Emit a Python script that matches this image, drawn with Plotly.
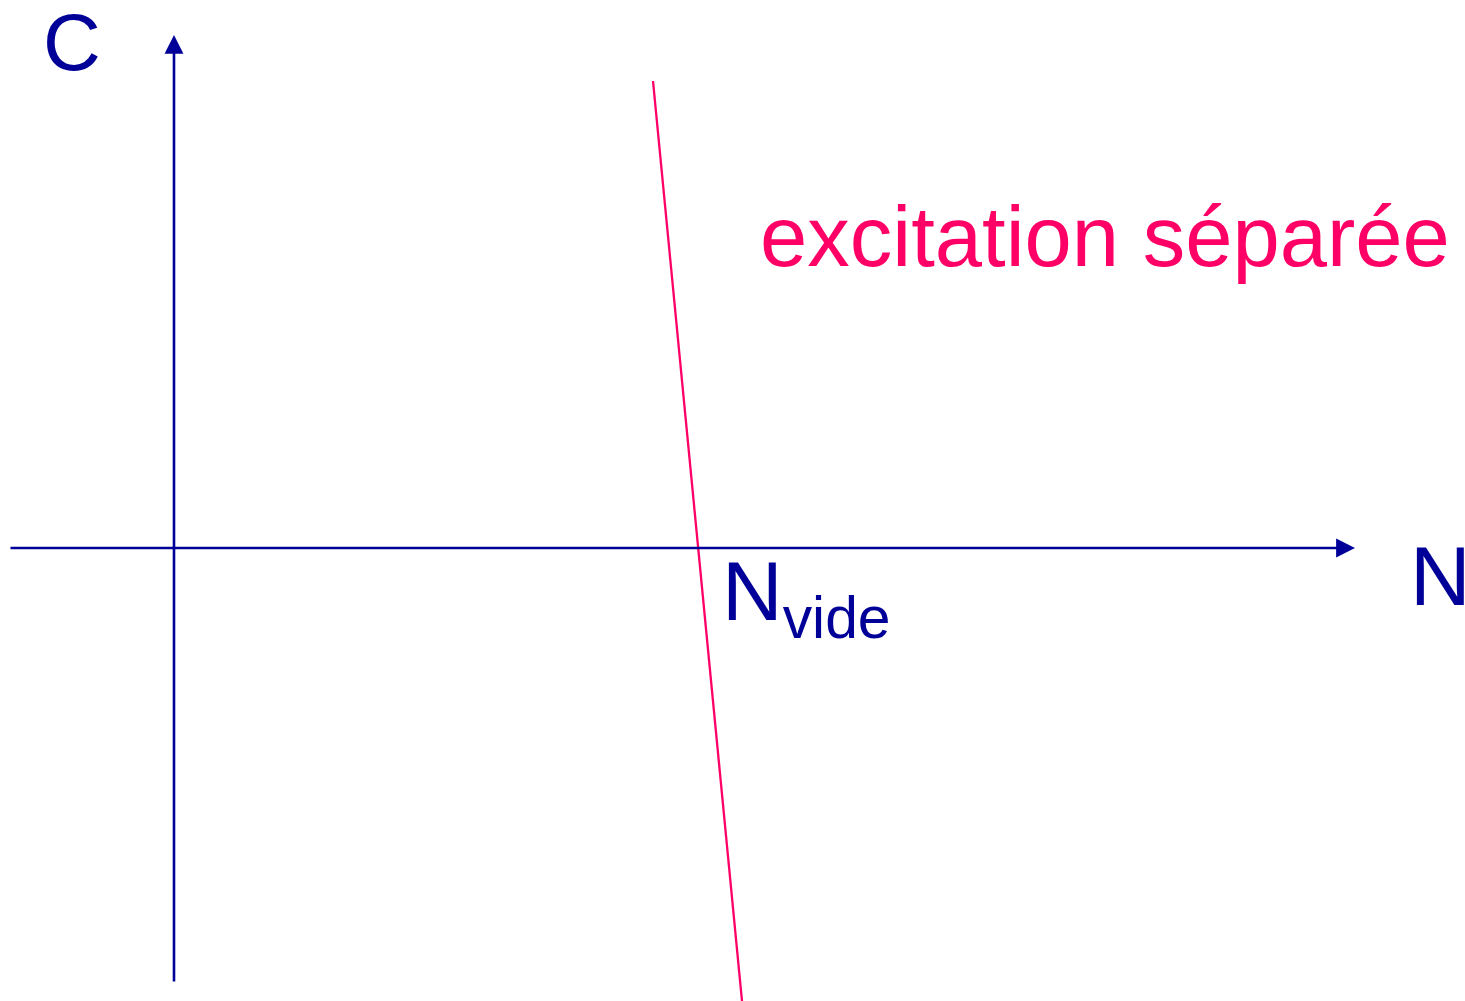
import plotly.graph_objects as go

# Data (one data unit = one screen pixel; origin at the axes crossing)
h_axis_x = [-165, 1181]
h_axis_y = [0, 0]
v_axis_x = [0, 0]
v_axis_y = [-435, 513]
curve_n = [479, 568]
curve_c = [467, -453]

label_c = "C"
label_n = "N"
label_nvide = "N<sub>vide</sub>"
label_curve = "excitation séparée"
label_top = "(N)"

BLUE = "#000099"
PINK = "#FF0066"
FONT = "Liberation Sans, Arial, sans-serif"

fig = go.Figure()

fig.add_trace(go.Scatter(x=curve_n, y=curve_c, mode="lines",
                         line=dict(color=PINK, width=2.3), hoverinfo="skip"))

# axes with arrowheads
fig.add_annotation(x=h_axis_x[1], y=h_axis_y[1], ax=h_axis_x[0], ay=h_axis_y[0],
                   xref="x", yref="y", axref="x", ayref="y", text="",
                   showarrow=True, arrowhead=2, arrowsize=1.45, arrowwidth=2.6,
                   arrowcolor=BLUE)
fig.add_annotation(x=v_axis_x[1], y=v_axis_y[1], ax=v_axis_x[0], ay=v_axis_y[0],
                   xref="x", yref="y", axref="x", ayref="y", text="",
                   showarrow=True, arrowhead=2, arrowsize=1.45, arrowwidth=2.6,
                   arrowcolor=BLUE)

fig.add_annotation(x=-102, y=506, text=label_c, showarrow=False,
                   xanchor="center", yanchor="middle",
                   font=dict(family=FONT, size=80, color=BLUE))
fig.add_annotation(x=1234, y=-28, text=label_n, showarrow=False,
                   xanchor="left", yanchor="middle",
                   font=dict(family=FONT, size=84, color=BLUE))
fig.add_annotation(x=546, y=-49, text=label_nvide, showarrow=False,
                   xanchor="left", yanchor="middle",
                   font=dict(family=FONT, size=84, color=BLUE))
fig.add_annotation(x=584, y=312, text=label_curve, showarrow=False,
                   xanchor="left", yanchor="middle",
                   font=dict(family=FONT, size=85, color=PINK))
fig.add_annotation(x=807, y=545, text=label_top, showarrow=False,
                   xanchor="left", yanchor="bottom",
                   font=dict(family=FONT, size=84, color=BLUE))

fig.update_layout(
    width=1465, height=1001,
    margin=dict(l=0, r=0, t=0, b=0),
    paper_bgcolor="white", plot_bgcolor="white",
    showlegend=False,
    xaxis=dict(range=[-174, 1291], visible=False, fixedrange=True),
    yaxis=dict(range=[-453, 548], visible=False, fixedrange=True),
)

fig.write_html("out.html", config={"displayModeBar": False},
               post_script="document.body.style.margin='0';document.body.style.overflow='hidden';")
